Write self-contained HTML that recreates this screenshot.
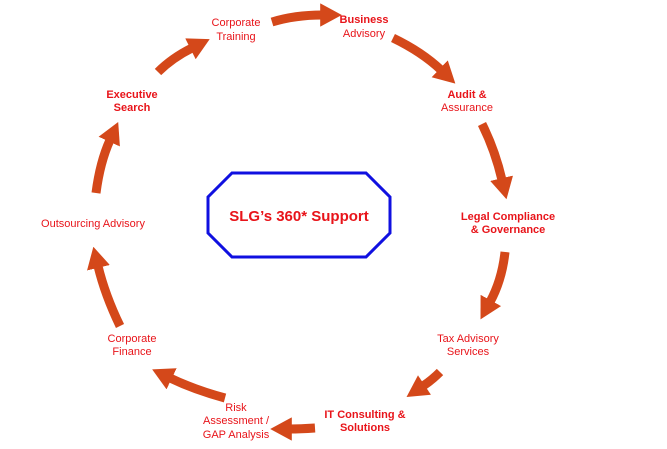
<!DOCTYPE html>
<html><head><meta charset="utf-8"><style>
html,body{margin:0;padding:0;background:#fff;}
svg{display:block;}
text{font-family:"Liberation Sans",sans-serif;fill:#e8141a;font-size:11px;text-anchor:middle;}
.b{font-weight:bold;}
</style></head><body>
<svg width="667" height="449" viewBox="0 0 667 449" xmlns="http://www.w3.org/2000/svg">
<defs>
<marker id="h" markerWidth="2.4" markerHeight="2.6" refX="0.2" refY="1.3" orient="auto" markerUnits="strokeWidth">
<path d="M0,0 L2.4,1.3 L0,2.6 Z" fill="#d4481a"/>
</marker>
</defs>
<g fill="none" stroke="#d4481a" stroke-width="9" marker-end="url(#h)">
<path d="M272,22 Q295,15 322,15"/>
<path d="M393,38 Q422,52 441,70"/>
<path d="M482,124 Q495,150 502,180"/>
<path d="M505,252 Q502,280 490,302"/>
<path d="M440,372 Q432,380 423,386"/>
<path d="M315,428 Q300,429 290,429"/>
<path d="M225,398 Q195,390 170,378"/>
<path d="M120,326 Q105,295 98,266"/>
<path d="M96,193 Q100,162 110,140"/>
<path d="M158,72 Q172,58 192,48"/>
</g>
<polygon points="232,173 366,173 390,197 390,233 366,257 232,257 208,233 208,197" fill="#fff" stroke="#1010e0" stroke-width="3"/>
<text x="299" y="221" class="b" style="font-size:15px">SLG’s 360* Support</text>
<text x="236" y="26">Corporate</text><text x="236" y="40">Training</text>
<text x="364" y="23" class="b">Business</text><text x="364" y="37">Advisory</text>
<text x="467" y="98" class="b">Audit &amp;</text><text x="467" y="111">Assurance</text>
<text x="508" y="220" class="b">Legal Compliance</text><text x="508" y="233" class="b">&amp; Governance</text>
<text x="468" y="342">Tax Advisory</text><text x="468" y="355">Services</text>
<text x="365" y="418" class="b">IT Consulting &amp;</text><text x="365" y="431" class="b">Solutions</text>
<text x="236" y="411">Risk</text><text x="236" y="424">Assessment /</text><text x="236" y="438">GAP Analysis</text>
<text x="132" y="342">Corporate</text><text x="132" y="355">Finance</text>
<text x="93" y="227">Outsourcing Advisory</text>
<text x="132" y="98" class="b">Executive</text><text x="132" y="111" class="b">Search</text>
</svg>
</body></html>
